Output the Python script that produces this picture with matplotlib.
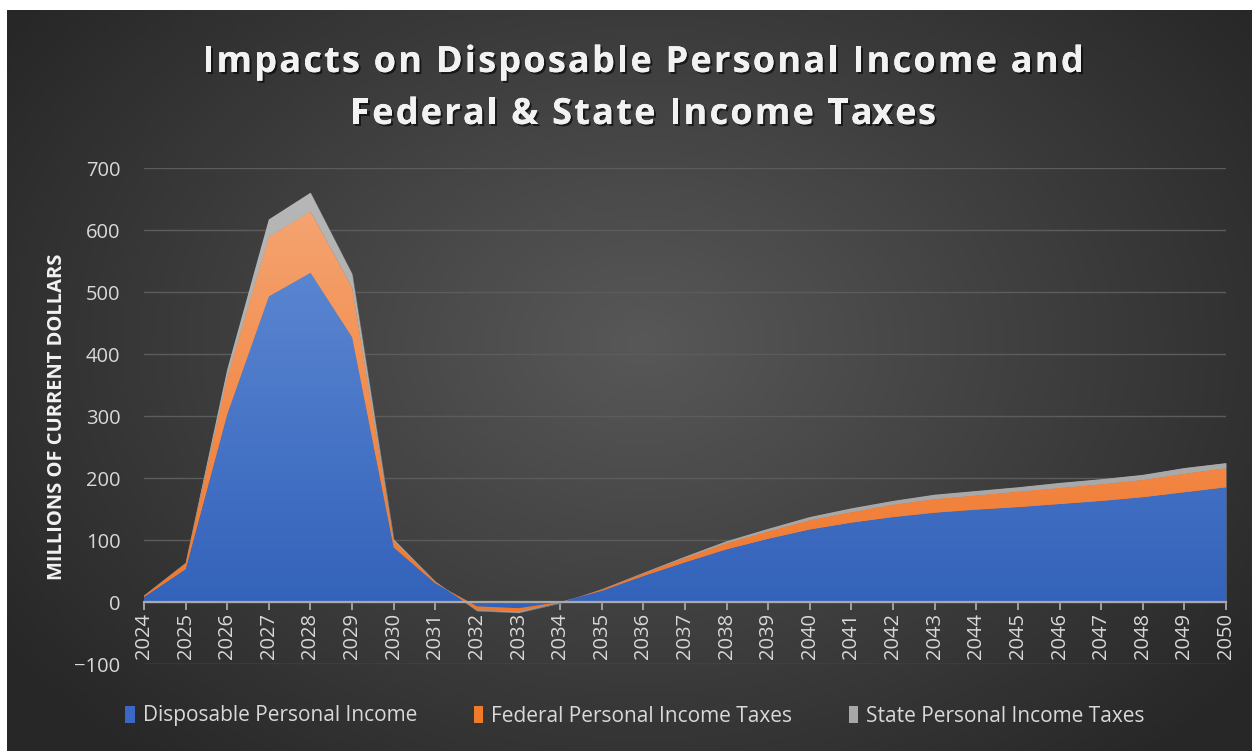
import numpy as np
import matplotlib
matplotlib.use("Agg")
import matplotlib.pyplot as plt
import matplotlib.patheffects as pe
from matplotlib.colors import LinearSegmentedColormap, to_rgb
from matplotlib.patches import Patch

plt.rcParams['font.family'] = ['Open Sans', 'DejaVu Sans']

years = list(range(2024, 2051))
disposable = [8, 53, 303, 493, 531, 427, 88, 30, -7, -10, 0, 18, 42, 64, 85, 102,
              117, 128, 137, 144, 149, 153, 158, 163, 169, 177, 185]
federal = [2, 9, 60, 96, 99, 80, 10, 2, -6, -5, -1, 2, 4, 7, 10, 12,
           15, 17, 20, 22, 23, 25, 26, 27, 28, 30, 31]
state = [0.5, 1, 12, 28, 30, 22, 3, 1, -1, -2, -0.5, 0.5, 1, 2, 3, 4,
         5, 6, 6, 7, 7, 7, 8, 8, 8, 9, 8]
series_names = ["Disposable Personal Income", "Federal Personal Income Taxes",
                "State Personal Income Taxes"]
title_lines = ["Impacts on Disposable Personal Income and",
               "Federal & State Income Taxes"]

W, H = 1252, 751
fig = plt.figure(figsize=(W / 100, H / 100), dpi=100)
fig.patch.set_facecolor("white")

# dark radial backdrop
bg = fig.add_axes([7 / W, 0, (W - 7) / W, (H - 10) / H], zorder=-10)
gx, gy = np.meshgrid(np.linspace(0, 1, 400), np.linspace(0, 1, 240))
r = np.sqrt(((gx - 0.51) / 0.62) ** 2 + ((gy - 0.45) / 0.75) ** 2)
r = np.clip(r, 0, 1)
c0, c1 = np.array(to_rgb("#585858")), np.array(to_rgb("#272727"))
img = c0[None, None, :] * (1 - r[..., None]) + c1[None, None, :] * r[..., None]
bg.imshow(img, aspect="auto", extent=[0, 1, 0, 1], origin="upper")
bg.set_axis_off()

ax = fig.add_axes([144 / W, (H - 664) / H, (1226 - 144) / W, (664 - 168) / H])
ax.set_facecolor("none")

colors = ["#3a68c4", "#f07b2a", "#a8a8a8"]
polys = ax.stackplot(years, disposable, federal, state, colors=colors,
                     labels=series_names, edgecolor="#6a6a6a", linewidth=0.4,
                     zorder=3)

# vertical shading inside each band
grads = [("#2c5cb6", "#6690d8"), ("#f07020", "#f5a878"), ("#a0a0a0", "#b8b8b8")]
for poly, (lo, hi) in zip(polys, grads):
    cmap = LinearSegmentedColormap.from_list("g", [lo, hi])
    grad = np.linspace(0, 1, 256).reshape(-1, 1)
    im = ax.imshow(grad, cmap=cmap, aspect="auto", origin="lower",
                   extent=[2024, 2050, -100, 700], zorder=3.5)
    im.set_clip_path(poly.get_paths()[0], transform=ax.transData)

ax.set_xlim(2024, 2050)
ax.set_ylim(-100, 700)
ax.set_yticks(range(-100, 701, 100))
ax.set_xticks(years)

ax.grid(axis="y", color="#5c5c5c", linewidth=1.0, zorder=1)
ax.set_axisbelow(True)
for s in ["top", "right", "left"]:
    ax.spines[s].set_visible(False)
ax.spines["bottom"].set_position(("data", 0))
ax.spines["bottom"].set_color("#a9a9a9")
ax.spines["bottom"].set_linewidth(1.6)
ax.spines["bottom"].set_zorder(6)

ax.tick_params(axis="x", direction="out", length=6, width=1.3, color="#a9a9a9",
               labelcolor="#d9d9d9", labelsize=14.5, pad=2, labelrotation=90)
ax.tick_params(axis="y", length=0, labelcolor="#d9d9d9", labelsize=14.5, pad=17)

fig.text(57 / W, 1 - 417 / H, "MILLIONS OF CURRENT DOLLARS", rotation=90,
         ha="center", va="center", fontsize=14.5, fontweight="bold",
         color="#f2f2f2")

# title with letter spacing, laid out glyph by glyph
shadow = [pe.withSimplePatchShadow(offset=(1.5, -1.5), shadow_rgbFace="black",
                                   alpha=0.6), pe.Normal()]
renderer = fig.canvas.get_renderer()
probe = fig.text(0, 0, "", fontsize=26, fontweight="bold")
track = 2.2
for line, yc in zip(title_lines, [63, 115]):
    widths = []
    for i in range(len(line) + 1):
        probe.set_text(line[:i].replace(" ", "\u00a0") if i else "")
        widths.append(probe.get_window_extent(renderer).width if i else 0.0)
    total = widths[-1] + track * (len(line) - 1)
    x0 = 643 - total / 2
    for i, ch in enumerate(line):
        if ch == " ":
            continue
        fig.text((x0 + widths[i] + track * i) / W, 1 - yc / H, ch,
                 ha="left", va="center", fontsize=26, fontweight="bold",
                 color="#f2f2f2", path_effects=shadow)
probe.remove()

handles = [Patch(facecolor=c, edgecolor="none") for c in ["#3a68c4", "#f07b2a", "#a8a8a8"]]
leg = fig.legend(handles, series_names, loc="center", ncol=3,
                 bbox_to_anchor=(635 / W, 1 - 716 / H), frameon=False,
                 fontsize=15, labelcolor="#d9d9d9", handlelength=0.45,
                 handleheight=0.9, handletextpad=0.4, columnspacing=2.7)

fig.savefig("out.png", dpi=100, facecolor=fig.get_facecolor())
